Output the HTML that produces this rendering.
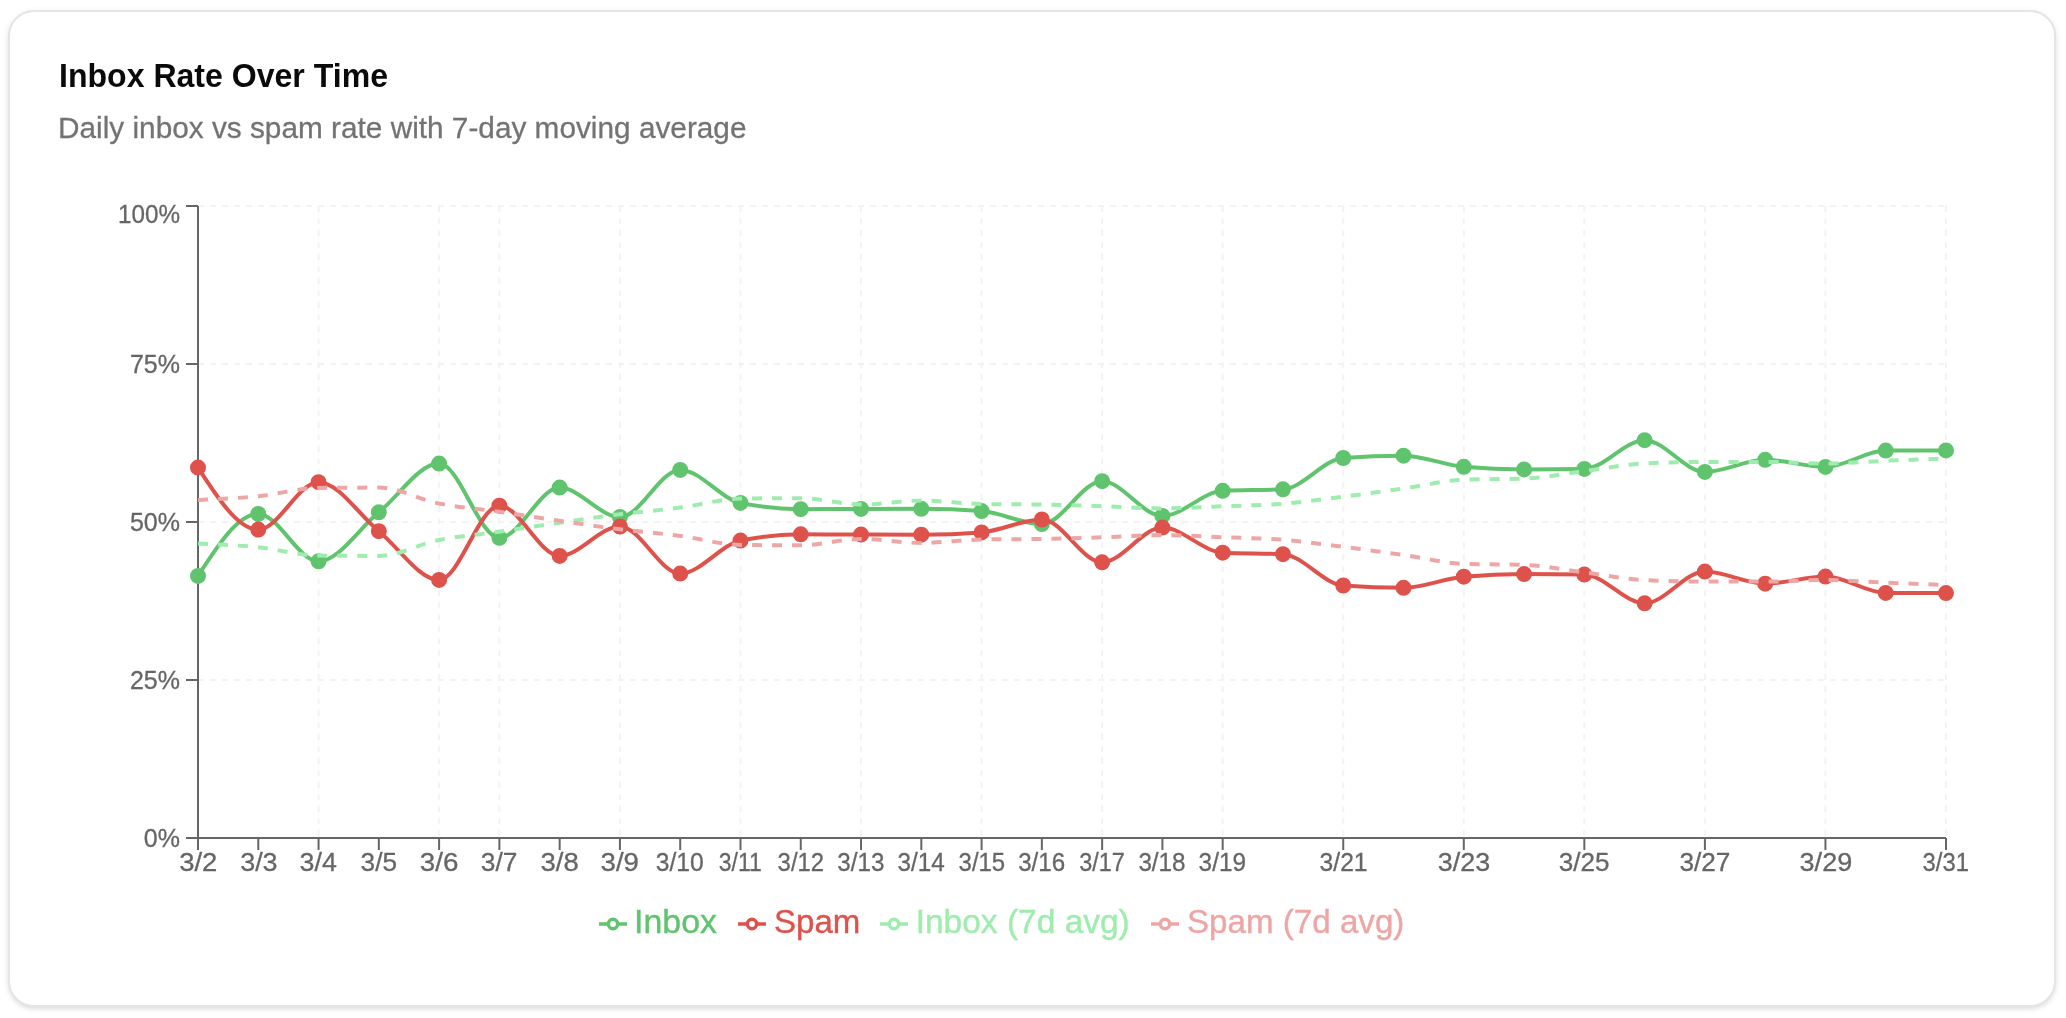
<!DOCTYPE html>
<html><head><meta charset="utf-8"><style>
html,body{margin:0;padding:0;background:#fff;width:2066px;height:1018px;overflow:hidden;}
.card{position:absolute;left:8px;top:10px;width:2048px;height:996.5px;box-sizing:border-box;border:2px solid #e5e5e5;border-radius:26px;background:#fff;box-shadow:0 2px 6px 0 rgba(0,0,0,0.1),0 2px 4px -2px rgba(0,0,0,0.1);}
.t{position:absolute;left:58px;top:0;font-family:"Liberation Sans",sans-serif;white-space:nowrap;}
.title{font-size:32px;font-weight:700;color:#0a0a0a;}
.sub{font-size:28px;color:#737373;}
svg.ch{position:absolute;left:0;top:0;will-change:transform;}
.tk{font-family:"Liberation Sans",sans-serif;font-size:25px;fill:#666666;stroke:#666666;stroke-width:0.3px;}
.lg{font-family:"Liberation Sans",sans-serif;font-size:34px;}
</style></head><body>
<div class="card"></div>
<svg class="ch" width="2066" height="1018" viewBox="0 0 2066 1018">
<text x="59" y="87" font-family="Liberation Sans" font-weight="700" font-size="34" fill="#0a0a0a" textLength="329" lengthAdjust="spacingAndGlyphs">Inbox Rate Over Time</text>
<text x="58" y="138" font-family="Liberation Sans" font-size="30" fill="#737373" stroke="#737373" stroke-width="0.3" textLength="688.5" lengthAdjust="spacingAndGlyphs">Daily inbox vs spam rate with 7-day moving average</text>
<line x1="198.0" y1="206" x2="1946.0" y2="206" stroke="#f3f3f3" stroke-width="2" stroke-dasharray="6 6"/>
<line x1="198.0" y1="364" x2="1946.0" y2="364" stroke="#f3f3f3" stroke-width="2" stroke-dasharray="6 6"/>
<line x1="198.0" y1="522" x2="1946.0" y2="522" stroke="#f3f3f3" stroke-width="2" stroke-dasharray="6 6"/>
<line x1="198.0" y1="680" x2="1946.0" y2="680" stroke="#f3f3f3" stroke-width="2" stroke-dasharray="6 6"/>
<line x1="198.00" y1="206" x2="198.00" y2="838" stroke="#f3f3f3" stroke-width="2" stroke-dasharray="6 6"/>
<line x1="318.55" y1="206" x2="318.55" y2="838" stroke="#f3f3f3" stroke-width="2" stroke-dasharray="6 6"/>
<line x1="439.10" y1="206" x2="439.10" y2="838" stroke="#f3f3f3" stroke-width="2" stroke-dasharray="6 6"/>
<line x1="499.38" y1="206" x2="499.38" y2="838" stroke="#f3f3f3" stroke-width="2" stroke-dasharray="6 6"/>
<line x1="619.93" y1="206" x2="619.93" y2="838" stroke="#f3f3f3" stroke-width="2" stroke-dasharray="6 6"/>
<line x1="740.48" y1="206" x2="740.48" y2="838" stroke="#f3f3f3" stroke-width="2" stroke-dasharray="6 6"/>
<line x1="861.03" y1="206" x2="861.03" y2="838" stroke="#f3f3f3" stroke-width="2" stroke-dasharray="6 6"/>
<line x1="981.59" y1="206" x2="981.59" y2="838" stroke="#f3f3f3" stroke-width="2" stroke-dasharray="6 6"/>
<line x1="1102.14" y1="206" x2="1102.14" y2="838" stroke="#f3f3f3" stroke-width="2" stroke-dasharray="6 6"/>
<line x1="1222.69" y1="206" x2="1222.69" y2="838" stroke="#f3f3f3" stroke-width="2" stroke-dasharray="6 6"/>
<line x1="1343.24" y1="206" x2="1343.24" y2="838" stroke="#f3f3f3" stroke-width="2" stroke-dasharray="6 6"/>
<line x1="1463.79" y1="206" x2="1463.79" y2="838" stroke="#f3f3f3" stroke-width="2" stroke-dasharray="6 6"/>
<line x1="1584.34" y1="206" x2="1584.34" y2="838" stroke="#f3f3f3" stroke-width="2" stroke-dasharray="6 6"/>
<line x1="1704.90" y1="206" x2="1704.90" y2="838" stroke="#f3f3f3" stroke-width="2" stroke-dasharray="6 6"/>
<line x1="1825.45" y1="206" x2="1825.45" y2="838" stroke="#f3f3f3" stroke-width="2" stroke-dasharray="6 6"/>
<line x1="1946.00" y1="206" x2="1946.00" y2="838" stroke="#f3f3f3" stroke-width="2" stroke-dasharray="6 6"/>
<line x1="198" y1="206" x2="198" y2="838" stroke="#666666" stroke-width="2"/>
<line x1="198" y1="838" x2="1946" y2="838" stroke="#666666" stroke-width="2"/>
<line x1="186" y1="206" x2="198" y2="206" stroke="#666666" stroke-width="2"/>
<text x="180" y="214" dy="0.355em" text-anchor="end" class="tk" textLength="62" lengthAdjust="spacingAndGlyphs">100%</text>
<line x1="186" y1="364" x2="198" y2="364" stroke="#666666" stroke-width="2"/>
<text x="180" y="364" dy="0.355em" text-anchor="end" class="tk">75%</text>
<line x1="186" y1="522" x2="198" y2="522" stroke="#666666" stroke-width="2"/>
<text x="180" y="522" dy="0.355em" text-anchor="end" class="tk">50%</text>
<line x1="186" y1="680" x2="198" y2="680" stroke="#666666" stroke-width="2"/>
<text x="180" y="680" dy="0.355em" text-anchor="end" class="tk">25%</text>
<line x1="186" y1="838" x2="198" y2="838" stroke="#666666" stroke-width="2"/>
<text x="180" y="838" dy="0.355em" text-anchor="end" class="tk">0%</text>
<line x1="198.00" y1="838" x2="198.00" y2="850" stroke="#666666" stroke-width="2"/>
<text x="179.20" y="853" dy="0.71em" class="tk" textLength="38.20" lengthAdjust="spacingAndGlyphs">3/2</text>
<line x1="258.28" y1="838" x2="258.28" y2="850" stroke="#666666" stroke-width="2"/>
<text x="240.20" y="853" dy="0.71em" class="tk" textLength="37.40" lengthAdjust="spacingAndGlyphs">3/3</text>
<line x1="318.55" y1="838" x2="318.55" y2="850" stroke="#666666" stroke-width="2"/>
<text x="299.60" y="853" dy="0.71em" class="tk" textLength="37.20" lengthAdjust="spacingAndGlyphs">3/4</text>
<line x1="378.83" y1="838" x2="378.83" y2="850" stroke="#666666" stroke-width="2"/>
<text x="360.60" y="853" dy="0.71em" class="tk" textLength="36.40" lengthAdjust="spacingAndGlyphs">3/5</text>
<line x1="439.10" y1="838" x2="439.10" y2="850" stroke="#666666" stroke-width="2"/>
<text x="419.80" y="853" dy="0.71em" class="tk" textLength="38.60" lengthAdjust="spacingAndGlyphs">3/6</text>
<line x1="499.38" y1="838" x2="499.38" y2="850" stroke="#666666" stroke-width="2"/>
<text x="480.80" y="853" dy="0.71em" class="tk" textLength="36.60" lengthAdjust="spacingAndGlyphs">3/7</text>
<line x1="559.66" y1="838" x2="559.66" y2="850" stroke="#666666" stroke-width="2"/>
<text x="540.60" y="853" dy="0.71em" class="tk" textLength="38.20" lengthAdjust="spacingAndGlyphs">3/8</text>
<line x1="619.93" y1="838" x2="619.93" y2="850" stroke="#666666" stroke-width="2"/>
<text x="600.60" y="853" dy="0.71em" class="tk" textLength="38.40" lengthAdjust="spacingAndGlyphs">3/9</text>
<line x1="680.21" y1="838" x2="680.21" y2="850" stroke="#666666" stroke-width="2"/>
<text x="655.80" y="853" dy="0.71em" class="tk" textLength="48.00" lengthAdjust="spacingAndGlyphs">3/10</text>
<line x1="740.48" y1="838" x2="740.48" y2="850" stroke="#666666" stroke-width="2"/>
<text x="718.80" y="853" dy="0.71em" class="tk" textLength="43.00" lengthAdjust="spacingAndGlyphs">3/11</text>
<line x1="800.76" y1="838" x2="800.76" y2="850" stroke="#666666" stroke-width="2"/>
<text x="777.60" y="853" dy="0.71em" class="tk" textLength="46.60" lengthAdjust="spacingAndGlyphs">3/12</text>
<line x1="861.03" y1="838" x2="861.03" y2="850" stroke="#666666" stroke-width="2"/>
<text x="837.20" y="853" dy="0.71em" class="tk" textLength="47.20" lengthAdjust="spacingAndGlyphs">3/13</text>
<line x1="921.31" y1="838" x2="921.31" y2="850" stroke="#666666" stroke-width="2"/>
<text x="897.60" y="853" dy="0.71em" class="tk" textLength="47.20" lengthAdjust="spacingAndGlyphs">3/14</text>
<line x1="981.59" y1="838" x2="981.59" y2="850" stroke="#666666" stroke-width="2"/>
<text x="958.60" y="853" dy="0.71em" class="tk" textLength="46.60" lengthAdjust="spacingAndGlyphs">3/15</text>
<line x1="1041.86" y1="838" x2="1041.86" y2="850" stroke="#666666" stroke-width="2"/>
<text x="1018.20" y="853" dy="0.71em" class="tk" textLength="47.00" lengthAdjust="spacingAndGlyphs">3/16</text>
<line x1="1102.14" y1="838" x2="1102.14" y2="850" stroke="#666666" stroke-width="2"/>
<text x="1079.20" y="853" dy="0.71em" class="tk" textLength="45.60" lengthAdjust="spacingAndGlyphs">3/17</text>
<line x1="1162.41" y1="838" x2="1162.41" y2="850" stroke="#666666" stroke-width="2"/>
<text x="1138.40" y="853" dy="0.71em" class="tk" textLength="47.20" lengthAdjust="spacingAndGlyphs">3/18</text>
<line x1="1222.69" y1="838" x2="1222.69" y2="850" stroke="#666666" stroke-width="2"/>
<text x="1198.60" y="853" dy="0.71em" class="tk" textLength="47.40" lengthAdjust="spacingAndGlyphs">3/19</text>
<line x1="1343.24" y1="838" x2="1343.24" y2="850" stroke="#666666" stroke-width="2"/>
<text x="1319.60" y="853" dy="0.71em" class="tk" textLength="48.00" lengthAdjust="spacingAndGlyphs">3/21</text>
<line x1="1463.79" y1="838" x2="1463.79" y2="850" stroke="#666666" stroke-width="2"/>
<text x="1437.80" y="853" dy="0.71em" class="tk" textLength="52.40" lengthAdjust="spacingAndGlyphs">3/23</text>
<line x1="1584.34" y1="838" x2="1584.34" y2="850" stroke="#666666" stroke-width="2"/>
<text x="1558.80" y="853" dy="0.71em" class="tk" textLength="50.80" lengthAdjust="spacingAndGlyphs">3/25</text>
<line x1="1704.90" y1="838" x2="1704.90" y2="850" stroke="#666666" stroke-width="2"/>
<text x="1679.40" y="853" dy="0.71em" class="tk" textLength="51.00" lengthAdjust="spacingAndGlyphs">3/27</text>
<line x1="1825.45" y1="838" x2="1825.45" y2="850" stroke="#666666" stroke-width="2"/>
<text x="1799.60" y="853" dy="0.71em" class="tk" textLength="52.60" lengthAdjust="spacingAndGlyphs">3/29</text>
<line x1="1946.00" y1="838" x2="1946.00" y2="850" stroke="#666666" stroke-width="2"/>
<text x="1922.60" y="853" dy="0.71em" class="tk" textLength="46.40" lengthAdjust="spacingAndGlyphs">3/31</text>
<path d="M198,575.9C218.092,544.9,238.184,513.9,258.276,513.9C278.368,513.9,298.46,561.3,318.552,561.3C338.644,561.3,358.736,528.583,378.828,512.3C398.92,496.017,419.011,463.6,439.103,463.6C459.195,463.6,479.287,537.8,499.379,537.8C519.471,537.8,539.563,487.6,559.655,487.6C579.747,487.6,599.839,517,619.931,517C640.023,517,660.115,469.9,680.207,469.9C700.299,469.9,720.391,498.7,740.483,502.9C760.575,507.1,780.667,509.2,800.759,509.2C820.851,509.2,840.943,508.967,861.034,508.9C881.126,508.833,901.218,508.8,921.31,508.8C941.402,508.8,961.494,509.567,981.586,511.1C1001.678,512.633,1021.77,524,1041.862,524C1061.954,524,1082.046,481.2,1102.138,481.2C1122.23,481.2,1142.322,515.9,1162.414,515.9C1182.506,515.9,1202.598,491.8,1222.69,490.8C1242.782,489.8,1262.874,490.3,1282.966,489.3C1303.057,488.3,1323.149,459.533,1343.241,458C1363.333,456.467,1383.425,455.7,1403.517,455.7C1423.609,455.7,1443.701,465.067,1463.793,466.8C1483.885,468.533,1503.977,469.4,1524.069,469.4C1544.161,469.4,1564.253,469.233,1584.345,468.9C1604.437,468.567,1624.529,440.2,1644.621,440.2C1664.713,440.2,1684.805,471.9,1704.897,471.9C1724.989,471.9,1745.08,459.8,1765.172,459.8C1785.264,459.8,1805.356,466.9,1825.448,466.9C1845.54,466.9,1865.632,450.733,1885.724,450.6C1905.816,450.467,1925.908,450.433,1946,450.4" fill="none" stroke="#60c36d" stroke-width="4"/>
<circle cx="198.00" cy="575.90" r="6" fill="#60c36d" stroke="#60c36d" stroke-width="4"/>
<circle cx="258.28" cy="513.90" r="6" fill="#60c36d" stroke="#60c36d" stroke-width="4"/>
<circle cx="318.55" cy="561.30" r="6" fill="#60c36d" stroke="#60c36d" stroke-width="4"/>
<circle cx="378.83" cy="512.30" r="6" fill="#60c36d" stroke="#60c36d" stroke-width="4"/>
<circle cx="439.10" cy="463.60" r="6" fill="#60c36d" stroke="#60c36d" stroke-width="4"/>
<circle cx="499.38" cy="537.80" r="6" fill="#60c36d" stroke="#60c36d" stroke-width="4"/>
<circle cx="559.66" cy="487.60" r="6" fill="#60c36d" stroke="#60c36d" stroke-width="4"/>
<circle cx="619.93" cy="517.00" r="6" fill="#60c36d" stroke="#60c36d" stroke-width="4"/>
<circle cx="680.21" cy="469.90" r="6" fill="#60c36d" stroke="#60c36d" stroke-width="4"/>
<circle cx="740.48" cy="502.90" r="6" fill="#60c36d" stroke="#60c36d" stroke-width="4"/>
<circle cx="800.76" cy="509.20" r="6" fill="#60c36d" stroke="#60c36d" stroke-width="4"/>
<circle cx="861.03" cy="508.90" r="6" fill="#60c36d" stroke="#60c36d" stroke-width="4"/>
<circle cx="921.31" cy="508.80" r="6" fill="#60c36d" stroke="#60c36d" stroke-width="4"/>
<circle cx="981.59" cy="511.10" r="6" fill="#60c36d" stroke="#60c36d" stroke-width="4"/>
<circle cx="1041.86" cy="524.00" r="6" fill="#60c36d" stroke="#60c36d" stroke-width="4"/>
<circle cx="1102.14" cy="481.20" r="6" fill="#60c36d" stroke="#60c36d" stroke-width="4"/>
<circle cx="1162.41" cy="515.90" r="6" fill="#60c36d" stroke="#60c36d" stroke-width="4"/>
<circle cx="1222.69" cy="490.80" r="6" fill="#60c36d" stroke="#60c36d" stroke-width="4"/>
<circle cx="1282.97" cy="489.30" r="6" fill="#60c36d" stroke="#60c36d" stroke-width="4"/>
<circle cx="1343.24" cy="458.00" r="6" fill="#60c36d" stroke="#60c36d" stroke-width="4"/>
<circle cx="1403.52" cy="455.70" r="6" fill="#60c36d" stroke="#60c36d" stroke-width="4"/>
<circle cx="1463.79" cy="466.80" r="6" fill="#60c36d" stroke="#60c36d" stroke-width="4"/>
<circle cx="1524.07" cy="469.40" r="6" fill="#60c36d" stroke="#60c36d" stroke-width="4"/>
<circle cx="1584.34" cy="468.90" r="6" fill="#60c36d" stroke="#60c36d" stroke-width="4"/>
<circle cx="1644.62" cy="440.20" r="6" fill="#60c36d" stroke="#60c36d" stroke-width="4"/>
<circle cx="1704.90" cy="471.90" r="6" fill="#60c36d" stroke="#60c36d" stroke-width="4"/>
<circle cx="1765.17" cy="459.80" r="6" fill="#60c36d" stroke="#60c36d" stroke-width="4"/>
<circle cx="1825.45" cy="466.90" r="6" fill="#60c36d" stroke="#60c36d" stroke-width="4"/>
<circle cx="1885.72" cy="450.60" r="6" fill="#60c36d" stroke="#60c36d" stroke-width="4"/>
<circle cx="1946.00" cy="450.40" r="6" fill="#60c36d" stroke="#60c36d" stroke-width="4"/>
<path d="M198,467.6C218.092,498.6,238.184,529.6,258.276,529.6C278.368,529.6,298.46,482.2,318.552,482.2C338.644,482.2,358.736,514.917,378.828,531.2C398.92,547.483,419.011,579.9,439.103,579.9C459.195,579.9,479.287,505.7,499.379,505.7C519.471,505.7,539.563,555.9,559.655,555.9C579.747,555.9,599.839,526.5,619.931,526.5C640.023,526.5,660.115,573.6,680.207,573.6C700.299,573.6,720.391,544.8,740.483,540.6C760.575,536.4,780.667,534.3,800.759,534.3C820.851,534.3,840.943,534.533,861.034,534.6C881.126,534.667,901.218,534.7,921.31,534.7C941.402,534.7,961.494,533.933,981.586,532.4C1001.678,530.867,1021.77,519.5,1041.862,519.5C1061.954,519.5,1082.046,562.3,1102.138,562.3C1122.23,562.3,1142.322,527.6,1162.414,527.6C1182.506,527.6,1202.598,551.7,1222.69,552.7C1242.782,553.7,1262.874,553.2,1282.966,554.2C1303.057,555.2,1323.149,583.967,1343.241,585.5C1363.333,587.033,1383.425,587.8,1403.517,587.8C1423.609,587.8,1443.701,578.433,1463.793,576.7C1483.885,574.967,1503.977,574.1,1524.069,574.1C1544.161,574.1,1564.253,574.267,1584.345,574.6C1604.437,574.933,1624.529,603.3,1644.621,603.3C1664.713,603.3,1684.805,571.6,1704.897,571.6C1724.989,571.6,1745.08,583.7,1765.172,583.7C1785.264,583.7,1805.356,576.6,1825.448,576.6C1845.54,576.6,1865.632,592.767,1885.724,592.9C1905.816,593.033,1925.908,593.067,1946,593.1" fill="none" stroke="#de524c" stroke-width="4"/>
<circle cx="198.00" cy="467.60" r="6" fill="#de524c" stroke="#de524c" stroke-width="4"/>
<circle cx="258.28" cy="529.60" r="6" fill="#de524c" stroke="#de524c" stroke-width="4"/>
<circle cx="318.55" cy="482.20" r="6" fill="#de524c" stroke="#de524c" stroke-width="4"/>
<circle cx="378.83" cy="531.20" r="6" fill="#de524c" stroke="#de524c" stroke-width="4"/>
<circle cx="439.10" cy="579.90" r="6" fill="#de524c" stroke="#de524c" stroke-width="4"/>
<circle cx="499.38" cy="505.70" r="6" fill="#de524c" stroke="#de524c" stroke-width="4"/>
<circle cx="559.66" cy="555.90" r="6" fill="#de524c" stroke="#de524c" stroke-width="4"/>
<circle cx="619.93" cy="526.50" r="6" fill="#de524c" stroke="#de524c" stroke-width="4"/>
<circle cx="680.21" cy="573.60" r="6" fill="#de524c" stroke="#de524c" stroke-width="4"/>
<circle cx="740.48" cy="540.60" r="6" fill="#de524c" stroke="#de524c" stroke-width="4"/>
<circle cx="800.76" cy="534.30" r="6" fill="#de524c" stroke="#de524c" stroke-width="4"/>
<circle cx="861.03" cy="534.60" r="6" fill="#de524c" stroke="#de524c" stroke-width="4"/>
<circle cx="921.31" cy="534.70" r="6" fill="#de524c" stroke="#de524c" stroke-width="4"/>
<circle cx="981.59" cy="532.40" r="6" fill="#de524c" stroke="#de524c" stroke-width="4"/>
<circle cx="1041.86" cy="519.50" r="6" fill="#de524c" stroke="#de524c" stroke-width="4"/>
<circle cx="1102.14" cy="562.30" r="6" fill="#de524c" stroke="#de524c" stroke-width="4"/>
<circle cx="1162.41" cy="527.60" r="6" fill="#de524c" stroke="#de524c" stroke-width="4"/>
<circle cx="1222.69" cy="552.70" r="6" fill="#de524c" stroke="#de524c" stroke-width="4"/>
<circle cx="1282.97" cy="554.20" r="6" fill="#de524c" stroke="#de524c" stroke-width="4"/>
<circle cx="1343.24" cy="585.50" r="6" fill="#de524c" stroke="#de524c" stroke-width="4"/>
<circle cx="1403.52" cy="587.80" r="6" fill="#de524c" stroke="#de524c" stroke-width="4"/>
<circle cx="1463.79" cy="576.70" r="6" fill="#de524c" stroke="#de524c" stroke-width="4"/>
<circle cx="1524.07" cy="574.10" r="6" fill="#de524c" stroke="#de524c" stroke-width="4"/>
<circle cx="1584.34" cy="574.60" r="6" fill="#de524c" stroke="#de524c" stroke-width="4"/>
<circle cx="1644.62" cy="603.30" r="6" fill="#de524c" stroke="#de524c" stroke-width="4"/>
<circle cx="1704.90" cy="571.60" r="6" fill="#de524c" stroke="#de524c" stroke-width="4"/>
<circle cx="1765.17" cy="583.70" r="6" fill="#de524c" stroke="#de524c" stroke-width="4"/>
<circle cx="1825.45" cy="576.60" r="6" fill="#de524c" stroke="#de524c" stroke-width="4"/>
<circle cx="1885.72" cy="592.90" r="6" fill="#de524c" stroke="#de524c" stroke-width="4"/>
<circle cx="1946.00" cy="593.10" r="6" fill="#de524c" stroke="#de524c" stroke-width="4"/>
<path d="M198,543.6C218.092,544.45,238.184,545.3,258.276,547.3C278.368,549.3,298.46,555.4,318.552,555.6C338.644,555.8,358.736,555.9,378.828,555.9C398.92,555.9,419.011,544.033,439.103,540C459.195,535.967,479.287,534.583,499.379,531.7C519.471,528.817,539.563,525.617,559.655,522.7C579.747,519.783,599.839,516.717,619.931,514.2C640.023,511.683,660.115,510.2,680.207,507.6C700.299,505,720.391,498.867,740.483,498.6C760.575,498.333,780.667,498.2,800.759,498.2C820.851,498.2,840.943,504.5,861.034,504.5C881.126,504.5,901.218,500.6,921.31,500.6C941.402,500.6,961.494,503.6,981.586,504C1001.678,504.4,1021.77,504.233,1041.862,504.6C1061.954,504.967,1082.046,505.567,1102.138,506.2C1122.23,506.833,1142.322,508.4,1162.414,508.4C1182.506,508.4,1202.598,506.967,1222.69,506.2C1242.782,505.433,1262.874,505.383,1282.966,503.8C1303.057,502.217,1323.149,499.25,1343.241,496.7C1363.333,494.15,1383.425,491.35,1403.517,488.5C1423.609,485.65,1443.701,480.267,1463.793,479.6C1483.885,478.933,1503.977,479.267,1524.069,478.6C1544.161,477.933,1564.253,473.633,1584.345,471.1C1604.437,468.567,1624.529,464.4,1644.621,463.4C1664.713,462.4,1684.805,461.9,1704.897,461.9C1724.989,461.9,1745.08,461.9,1765.172,461.9C1785.264,461.9,1805.356,463.5,1825.448,463.5C1845.54,463.5,1865.632,461.633,1885.724,460.8C1905.816,459.967,1925.908,459.233,1946,458.5" fill="none" stroke="#9eedae" stroke-width="4" stroke-dasharray="10 10"/>
<path d="M198,499.9C218.092,499.05,238.184,498.2,258.276,496.2C278.368,494.2,298.46,488.1,318.552,487.9C338.644,487.7,358.736,487.6,378.828,487.6C398.92,487.6,419.011,499.467,439.103,503.5C459.195,507.533,479.287,508.917,499.379,511.8C519.471,514.683,539.563,517.883,559.655,520.8C579.747,523.717,599.839,526.783,619.931,529.3C640.023,531.817,660.115,533.3,680.207,535.9C700.299,538.5,720.391,544.633,740.483,544.9C760.575,545.167,780.667,545.3,800.759,545.3C820.851,545.3,840.943,539,861.034,539C881.126,539,901.218,542.9,921.31,542.9C941.402,542.9,961.494,539.9,981.586,539.5C1001.678,539.1,1021.77,539.267,1041.862,538.9C1061.954,538.533,1082.046,537.933,1102.138,537.3C1122.23,536.667,1142.322,535.1,1162.414,535.1C1182.506,535.1,1202.598,536.533,1222.69,537.3C1242.782,538.067,1262.874,538.117,1282.966,539.7C1303.057,541.283,1323.149,544.25,1343.241,546.8C1363.333,549.35,1383.425,552.15,1403.517,555C1423.609,557.85,1443.701,563.233,1463.793,563.9C1483.885,564.567,1503.977,564.233,1524.069,564.9C1544.161,565.567,1564.253,569.867,1584.345,572.4C1604.437,574.933,1624.529,579.1,1644.621,580.1C1664.713,581.1,1684.805,581.6,1704.897,581.6C1724.989,581.6,1745.08,581.6,1765.172,581.6C1785.264,581.6,1805.356,580,1825.448,580C1845.54,580,1865.632,581.867,1885.724,582.7C1905.816,583.533,1925.908,584.267,1946,585" fill="none" stroke="#eea6a5" stroke-width="4" stroke-dasharray="10 10"/>
<svg x="599" y="910" width="28" height="28" viewBox="0 0 32 32"><path stroke-width="4" fill="none" stroke="#60c36d" d="M0,16h10.666666666666666 A5.333333333333333,5.333333333333333,0,1,1,21.333333333333332,16 H32M21.333333333333332,16 A5.333333333333333,5.333333333333333,0,1,1,10.666666666666666,16"/></svg>
<text x="634.1" y="933" class="lg" fill="#60c36d" stroke="#60c36d" stroke-width="0.4" textLength="82.9" lengthAdjust="spacingAndGlyphs">Inbox</text>
<svg x="738" y="910" width="28" height="28" viewBox="0 0 32 32"><path stroke-width="4" fill="none" stroke="#de524c" d="M0,16h10.666666666666666 A5.333333333333333,5.333333333333333,0,1,1,21.333333333333332,16 H32M21.333333333333332,16 A5.333333333333333,5.333333333333333,0,1,1,10.666666666666666,16"/></svg>
<text x="774.0" y="933" class="lg" fill="#de524c" stroke="#de524c" stroke-width="0.4" textLength="86.3" lengthAdjust="spacingAndGlyphs">Spam</text>
<svg x="880" y="910" width="28" height="28" viewBox="0 0 32 32"><path stroke-width="4" fill="none" stroke="#9eedae" d="M0,16h10.666666666666666 A5.333333333333333,5.333333333333333,0,1,1,21.333333333333332,16 H32M21.333333333333332,16 A5.333333333333333,5.333333333333333,0,1,1,10.666666666666666,16"/></svg>
<text x="915.7" y="933" class="lg" fill="#9eedae" stroke="#9eedae" stroke-width="0.4" textLength="214.1" lengthAdjust="spacingAndGlyphs">Inbox (7d avg)</text>
<svg x="1151" y="910" width="28" height="28" viewBox="0 0 32 32"><path stroke-width="4" fill="none" stroke="#eea6a5" d="M0,16h10.666666666666666 A5.333333333333333,5.333333333333333,0,1,1,21.333333333333332,16 H32M21.333333333333332,16 A5.333333333333333,5.333333333333333,0,1,1,10.666666666666666,16"/></svg>
<text x="1187.0" y="933" class="lg" fill="#eea6a5" stroke="#eea6a5" stroke-width="0.4" textLength="217.4" lengthAdjust="spacingAndGlyphs">Spam (7d avg)</text>
</svg>
</body></html>
